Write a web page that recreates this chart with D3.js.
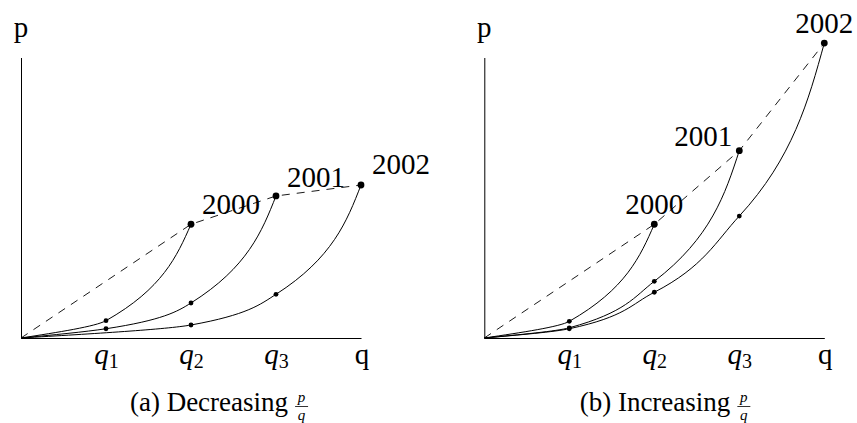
<!DOCTYPE html>
<html>
<head>
  <meta charset="utf-8" />
  <script src="https://d3js.org/d3.v7.min.js"></script>
<style>
body {
  margin: 0;
  background: #fff;
}
svg text {
  font-family: "Liberation Serif", "Times New Roman", "DejaVu Serif", serif;
}
</style>
</head>
<body>
<div id="viz"></div>
<script>
'use strict';

const years = ['2000', '2001', '2002'];
const qTicks = [1, 2, 3];
const qTickLabels = ['1', '2', '3'];

// (a) decreasing p/q : quantities and prices per year
const qA = [[0, 1, 2], [0, 1, 2, 3], [0, 2, 3, 4]];
const pA = [[0, 0.204, 1.338], [0, 0.109, 0.412, 1.671], [0, 0.153, 0.514, 1.8]];

// (b) increasing p/q
const qB = [[0, 1, 2], [0, 1, 2, 3], [0, 1, 2, 3, 4]];
const pB = [[0, 0.196, 1.338], [0, 0.12, 0.667, 2.204], [0, 0.109, 0.538, 1.435, 3.47]];

const W = 857, H = 423;

const svg = d3.select('#viz')
  .append('svg')
    .attr('width', W)
    .attr('height', H);

function panel(opts) {
  const x = d3.scaleLinear().domain([0, 4]).range([opts.left, opts.left + 340]);
  const y = d3.scaleLinear().domain([0, 3.3]).range([338, 57.5]);
  const g = svg.append('g');

  const series = opts.q.map((qs, i) => qs.map((qv, j) => [qv, opts.p[i][j]]));

  // year labels first, the dashed line runs over them
  series.forEach((s, i) => {
    const last = s[s.length - 1];
    const lp = opts.labels[i];
    g.append('text')
      .attr('x', x(last[0]) + lp.dx)
      .attr('y', y(last[1]) + lp.dy)
      .attr('text-anchor', lp.anchor)
      .attr('font-size', 29)
      .text(years[i]);
  });

  // axes
  const xAxis = g.append('g')
    .attr('transform', 'translate(0,' + y(0) + ')')
    .call(d3.axisBottom(x).tickValues(qTicks).tickSize(0).tickSizeOuter(0));
  xAxis.select('.domain').attr('stroke', '#000').attr('stroke-width', 1);
  xAxis.selectAll('.tick text').each(function(d, i) {
    const t = d3.select(this).attr('y', 26).attr('dy', null).text(null)
      .attr('font-size', 29);
    t.append('tspan').attr('font-style', 'italic').text('q');
    t.append('tspan').attr('font-size', 20).attr('dy', 4).text(qTickLabels[i]);
  });

  const yAxis = g.append('g')
    .attr('transform', 'translate(' + x(0) + ',0)')
    .call(d3.axisLeft(y).tickValues([]).tickSizeOuter(0));
  yAxis.select('.domain').attr('stroke', '#000').attr('stroke-width', 1);

  const yTop = y.range()[1];
  g.append('path')
    .attr('d', `M${x(4) - 4.5},${y(0) - 4.5}Q${x(4) - 1.5},${y(0) - 1}${x(4)},${y(0)}Q${x(4) - 1.5},${y(0) + 1}${x(4) - 4.5},${y(0) + 4.5}`)
    .attr('fill', 'none').attr('stroke', '#000').attr('stroke-width', 0.9);
  g.append('path')
    .attr('d', `M${x(0) - 4.5},${yTop + 4.5}Q${x(0) - 1},${yTop + 1.5}${x(0)},${yTop}Q${x(0) + 1},${yTop + 1.5}${x(0) + 4.5},${yTop + 4.5}`)
    .attr('fill', 'none').attr('stroke', '#000').attr('stroke-width', 0.9);

  g.append('text')
    .attr('x', x(0)).attr('y', 37)
    .attr('text-anchor', 'middle')
    .attr('font-size', 29)
    .text('p');
  g.append('text')
    .attr('x', x(4) + 1).attr('y', y(0) + 26)
    .attr('text-anchor', 'middle')
    .attr('font-size', 29)
    .text('q');

  // dashed line through the yearly points
  const ends = [[0, 0]].concat(series.map(s => s[s.length - 1]));
  const line = d3.line().x(d => x(d[0])).y(d => y(d[1]));
  g.append('path')
    .attr('d', line(ends))
    .attr('fill', 'none')
    .attr('stroke', '#000')
    .attr('stroke-width', 0.9)
    .attr('stroke-dasharray', '8,7');

  const curve = d3.line().x(d => x(d[0])).y(d => y(d[1])).curve(d3.curveMonotoneY);
  g.selectAll('path.curve').data(series)
    .enter()
    .append('path')
    .attr('class', 'curve')
    .attr('d', curve)
    .attr('fill', 'none')
    .attr('stroke', '#000')
    .attr('stroke-width', 1);

  series.forEach(s => {
    g.selectAll(null).data(s.slice(1))
      .enter()
      .append('circle')
      .attr('cx', d => x(d[0]))
      .attr('cy', d => y(d[1]))
      .attr('r', (d, j) => j === s.length - 2 ? 3.4 : 2.4)
      .attr('fill', '#000');
  });

  // caption, centred on capCenter
  const cap = g.append('g');
  const ct = cap.append('text')
    .attr('x', 0).attr('y', 411)
    .attr('font-size', 27)
    .text(opts.caption);
  const tw = ct.node().getComputedTextLength();
  const fx = tw + 7;
  cap.append('text')
    .attr('x', fx + 6.5).attr('y', 402)
    .attr('text-anchor', 'middle')
    .attr('font-size', 15)
    .attr('font-style', 'italic')
    .text('p');
  cap.append('line')
    .attr('x1', fx).attr('x2', fx + 13)
    .attr('y1', 406.5).attr('y2', 406.5)
    .attr('stroke', '#000').attr('stroke-width', 0.8);
  cap.append('text')
    .attr('x', fx + 6.5).attr('y', 419.5)
    .attr('text-anchor', 'middle')
    .attr('font-size', 15)
    .attr('font-style', 'italic')
    .text('q');
  cap.attr('transform', 'translate(' + (opts.capCenter - (fx + 13) / 2) + ',0)');
}

panel({
  left: 21,
  q: qA, p: pA,
  caption: '(a) Decreasing',
  capCenter: 219,
  labels: [
    {dx: 11, dy: -10, anchor: 'start'},
    {dx: 11, dy: -9, anchor: 'start'},
    {dx: 11, dy: -11, anchor: 'start'}
  ]
});

panel({
  left: 484.3,
  q: qB, p: pB,
  caption: '(b) Increasing',
  capCenter: 665,
  labels: [
    {dx: 0, dy: -10, anchor: 'middle'},
    {dx: -7, dy: -5, anchor: 'end'},
    {dx: 0, dy: -10, anchor: 'middle'}
  ]
});
</script>
</body>
</html>
